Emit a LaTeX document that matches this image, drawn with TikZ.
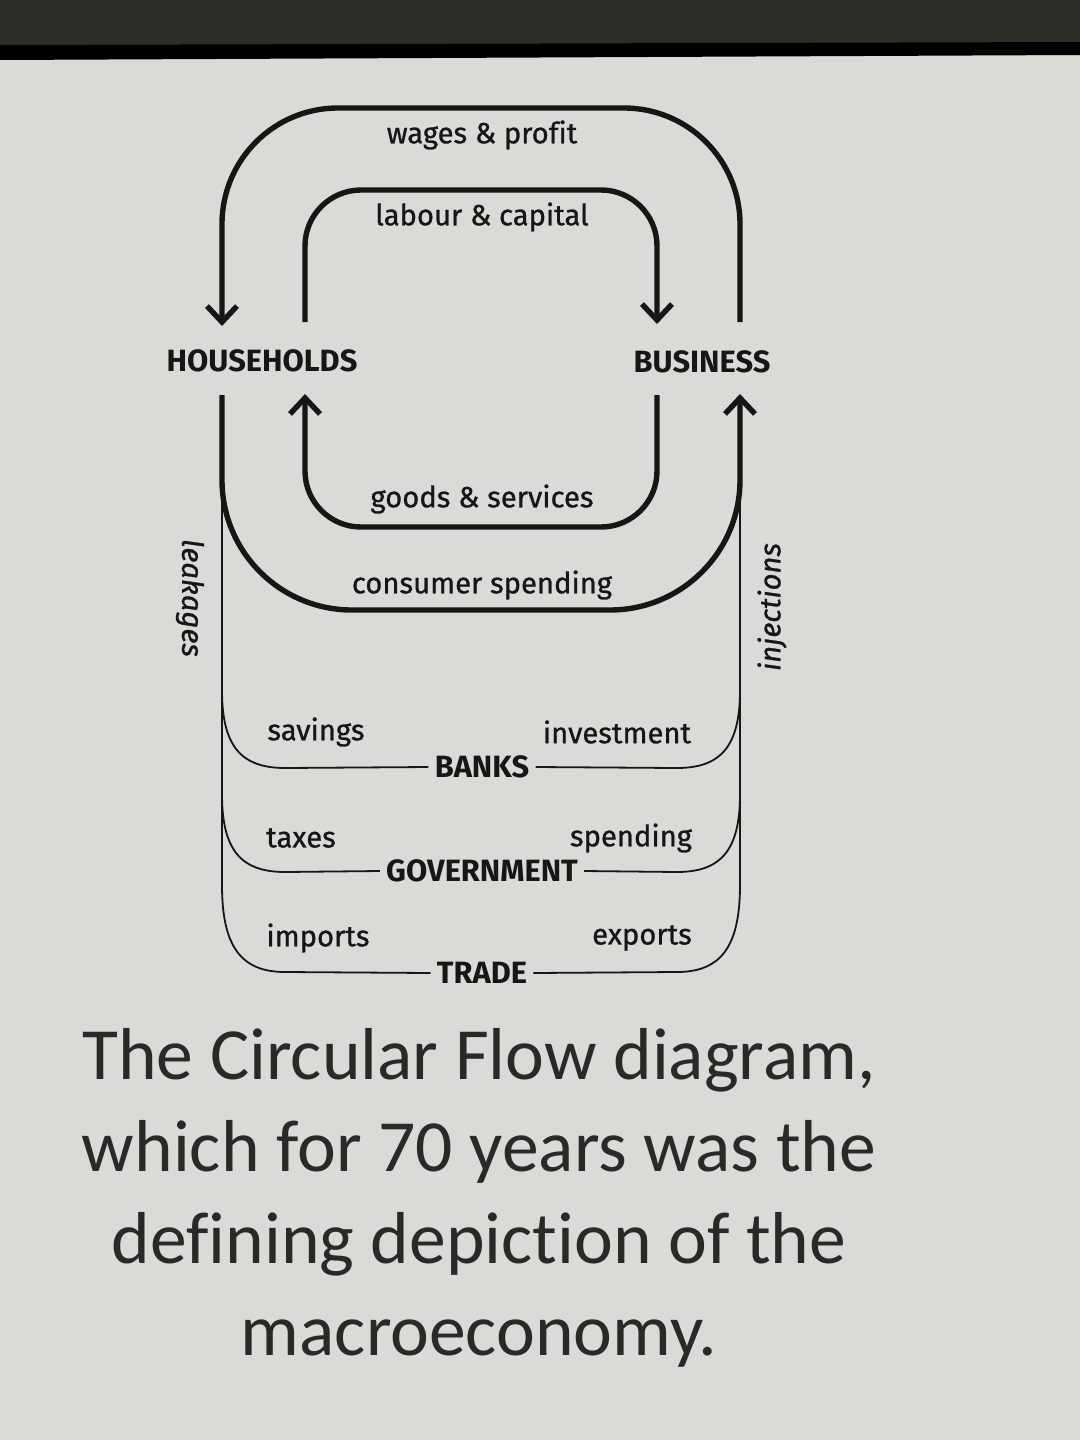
\documentclass[tikz,border=0pt]{standalone}
\usepackage{fontspec}
\setmainfont{Fira Sans}[Ligatures={NoCommon}]
\newfontfamily\lblfont{Fira Sans}[Ligatures={NoCommon}, FakeBold=0.9]
\newfontfamily\capfont{Carlito}[Ligatures={NoCommon}]
\usetikzlibrary{arrows.meta}
\definecolor{screen}{HTML}{DADAD6}
\definecolor{ink}{HTML}{161616}
\definecolor{bezeltop}{HTML}{2E2D27}
\begin{document}
\begin{tikzpicture}[x=0.5pt,y=-0.5pt,
  thickline/.style={line width=2.7pt, draw=ink},
  thinline/.style={line width=0.9pt, draw=ink},
  flowtip/.style={-{Straight Barb[length=8pt,width=15pt]}},
  lbl/.style={text=ink, font=\lblfont\fontsize{14.6}{17}\selectfont, inner sep=0pt},
  hdr/.style={text=ink, font=\fontsize{15.4}{18}\selectfont\bfseries, inner sep=3pt},
  side/.style={text=ink, font=\lblfont\fontsize{14.6}{17}\selectfont\itshape, inner sep=0pt},
  captxt/.style={text=ink!92, font=\capfont\fontsize{36.8}{46}\selectfont, align=center, inner sep=0pt}
]
\useasboundingbox (0,0) rectangle (1080,1440);
% screen photo background
\fill[screen] (0,0) rectangle (1080,1440);
\fill[bezeltop] (0,0) rectangle (1080,46);
\fill[black] (0,45) -- (1080,42) -- (1080,55) -- (0,60) -- cycle;

% labels
\node[lbl] (wp) at (482,135) {wages \& profit};
\node[lbl] (lc) at (482,217) {labour \& capital};
\node[hdr] (hh) at (262,361) {HOUSEHOLDS};
\node[hdr] (bu) at (702,362) {BUSINESS};
\node[lbl] (gs) at (482,499) {goods \& services};
\node[lbl] (cs) at (482,585) {consumer spending};
\node[lbl] (sav) at (316,732) {savings};
\node[lbl] (inv) at (617,732) {investment};
\node[hdr] (banks) at (482,767) {BANKS};
\node[lbl] (tax) at (301,838) {taxes};
\node[lbl] (spd) at (631,838) {spending};
\node[hdr] (gov) at (482,871) {GOVERNMENT};
\node[lbl] (imp) at (318,938) {imports};
\node[lbl] (exp) at (642,938) {exports};
\node[hdr] (trade) at (482,973) {TRADE};
\node[side, rotate=-90] (leak) at (190,598) {leakages};
\node[side, rotate=90] (inj) at (772,607) {injections};

% connector end points
\coordinate (hhA) at (222,326);
\coordinate (hhB) at (305,322);
\coordinate (hhC) at (222,395);
\coordinate (hhD) at (305,394);
\coordinate (buA) at (657,324);
\coordinate (buB) at (740,322);
\coordinate (buC) at (657,395);
\coordinate (buD) at (740,394);

% upper flows
\draw[thickline, flowtip, rounded corners=58pt] (buB) -- (740,108) -- (222,108) -- (hhA);
\draw[thickline, flowtip, rounded corners=28pt] (hhB) -- (305,190) -- (657,190) -- (buA);
% lower flows
\draw[thickline, flowtip, rounded corners=28pt] (buC) -- (657,527) -- (305,527) -- (hhD);
\draw[thickline, flowtip, rounded corners=65pt] (hhC) -- (222,610) -- (740,610) -- (buD);

% leakages / injections
\draw[thinline] (trade.west) -- (285,972) .. controls (240,972) and (222,945) .. (222,885) -- (222,470);
\draw[thinline] (trade.east) -- (677,972) .. controls (722,972) and (740,945) .. (740,885) -- (740,490);
\draw[thinline] (banks.west) -- (285,768) .. controls (240,768) and (222,745) .. (222,690);
\draw[thinline] (banks.east) -- (677,768) .. controls (722,768) and (740,745) .. (740,690);
\draw[thinline] (gov.west) -- (285,872) .. controls (240,872) and (222,849) .. (222,794);
\draw[thinline] (gov.east) -- (677,872) .. controls (722,872) and (740,849) .. (740,794);

% caption
\node[captxt, anchor=north] (cap) at (479,1028) {The Circular Flow diagram,\\which for 70 years was the\\defining depiction of the\\macroeconomy.};
\end{tikzpicture}
\end{document}
